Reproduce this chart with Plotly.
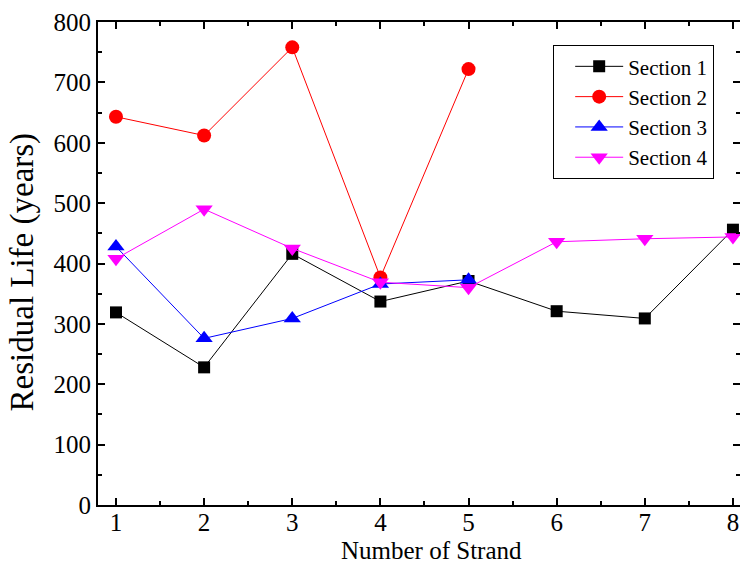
import plotly.graph_objects as go

strands = [1, 2, 3, 4, 5, 6, 7, 8]
section1 = [319, 228, 416, 337, 371, 321, 309, 456]
section2 = [643, 612, 758, 377, 722]
section3 = [428, 276, 309, 366, 373]
section4 = [408, 490, 425, 369, 360, 436, 441, 444]

FONT = "Liberation Serif, Times New Roman, serif"

fig = go.Figure()
fig.add_trace(go.Scatter(x=strands, y=section1, name="Section 1", mode="lines+markers",
                         line=dict(color="black", width=1),
                         marker=dict(symbol="square", size=12, color="black")))
fig.add_trace(go.Scatter(x=strands[:5], y=section2, name="Section 2", mode="lines+markers",
                         line=dict(color="red", width=1),
                         marker=dict(symbol="circle", size=14, color="red")))
fig.add_trace(go.Scatter(x=strands[:5], y=section3, name="Section 3", mode="lines+markers",
                         line=dict(color="blue", width=1),
                         marker=dict(symbol="triangle-up", size=15, color="blue")))
fig.add_trace(go.Scatter(x=strands, y=section4, name="Section 4", mode="lines+markers",
                         line=dict(color="magenta", width=1),
                         marker=dict(symbol="triangle-down", size=15, color="magenta")))

axis_common = dict(showline=True, linecolor="black", linewidth=2, mirror="ticks",
                   ticks="inside", ticklen=7, tickwidth=2, tickcolor="black",
                   showgrid=False, zeroline=False, automargin=False,
                   tickfont=dict(family=FONT, size=25, color="black"))

fig.update_xaxes(range=[0.796, 8.08], tickmode="array", tickvals=strands,
                 ticklabelstandoff=-6,
                 minor=dict(dtick=0.5, tick0=0, ticks="inside", ticklen=4, tickwidth=1.5, tickcolor="black"),
                 **axis_common)
fig.update_yaxes(range=[0, 800], dtick=100,
                 minor=dict(dtick=50, ticks="inside", ticklen=4, tickwidth=1.5, tickcolor="black"),
                 **axis_common)

fig.add_annotation(text="Residual Life (years)", textangle=-90, showarrow=False,
                   xref="paper", yref="paper", x=-0.118, y=0.482,
                   xanchor="center", yanchor="middle",
                   font=dict(family=FONT, size=33, color="black"))
fig.add_annotation(text="Number of Strand", showarrow=False,
                   xref="paper", yref="paper", x=0.520, y=-0.095,
                   xanchor="center", yanchor="middle",
                   font=dict(family=FONT, size=25, color="black"))

fig.update_layout(
    width=740, height=567,
    margin=dict(l=98, r=0, t=22, b=62),
    plot_bgcolor="white", paper_bgcolor="white",
    font=dict(family=FONT, size=22, color="black"),
    legend=dict(x=0.709, y=0.952, xanchor="left", yanchor="top",
                bordercolor="black", borderwidth=1, bgcolor="white",
                font=dict(family=FONT, size=21, color="black"),
                tracegroupgap=0, itemwidth=48, indentation=16),
    showlegend=True,
)

fig.write_html("out.html", config={"displayModeBar": False},
               post_script="document.body.style.margin='0';")
